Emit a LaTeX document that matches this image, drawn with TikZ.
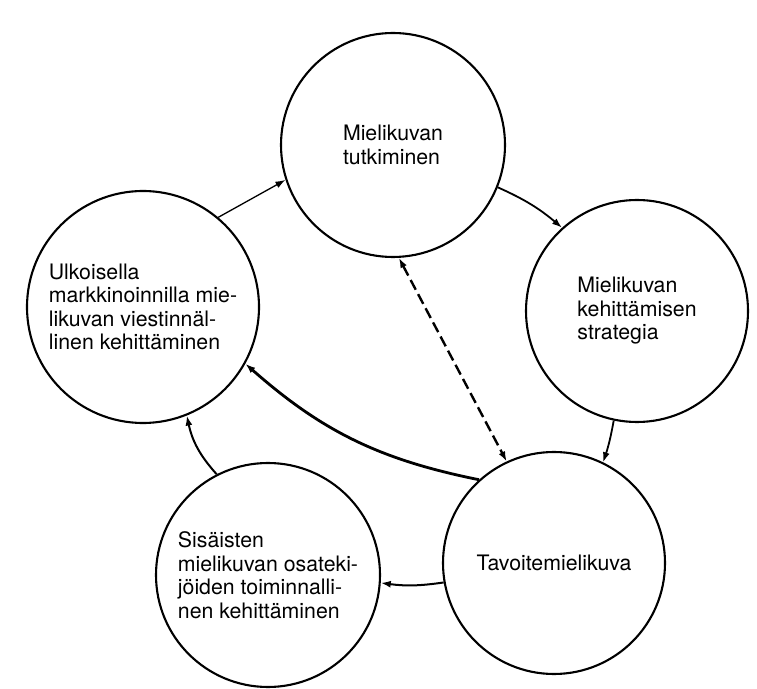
\documentclass[tikz,border=0pt]{standalone}
\usepackage{fontspec}
\setmainfont{TeX Gyre Heros}
\usetikzlibrary{arrows.meta}
\begin{document}
\begin{tikzpicture}[x=1pt,y=1pt,
  phase/.style={draw, circle, line width=2.1pt, inner sep=0pt, align=left,
    font=\fontsize{21.3}{23.5}\selectfont},
  flow/.style={line width=1.8pt, -{Latex[length=10pt,width=7pt]}},
  twoway/.style={line width=2.4pt, dash pattern=on 11pt off 5pt,
    {Latex[length=10pt,width=7pt]}-{Latex[length=10pt,width=7pt]}}]
\useasboundingbox (0,0) rectangle (757,688);
\fill[white] (0,0) rectangle (757,688);

% the five phases of the cycle
\node[phase, minimum size=224pt] (T) at (393,543) {Mielikuvan\\tutkiminen};
\node[phase, minimum size=222pt] (R) at (637,377) {Mielikuvan\\kehittämisen\\strategia};
\node[phase, minimum size=222pt] (B) at (554,125) {Tavoitemielikuva};
\node[phase, minimum size=224pt] (S) at (268,113) {Sisäisten\\mielikuvan osateki-\\jöiden toiminnalli-\\nen kehittäminen};
\node[phase, minimum size=232pt] (L) at (143,381) {Ulkoisella\\markkinoinnilla mie-\\likuvan viestinnäl-\\linen kehittäminen};

% clockwise flow between the phases
\draw[flow, line width=1.3pt] (L.50) -- (T.198);
\draw[flow] (T.338) to[bend left=8] (R.132);
\draw[flow] (R.258) to[bend left=4] (B.64);
\draw[flow, line width=2pt] (B.190) to[bend left=8] (S.356.5);
\draw[flow, line width=2pt] (S.117) to[bend left=15] (L.292);
\draw[flow, line width=2.8pt] (B.132) to[bend left=15] (L.331.5);

% feedback between research and the target image
\draw[twoway] (T.273.5) -- (B.115);
\end{tikzpicture}
\end{document}
